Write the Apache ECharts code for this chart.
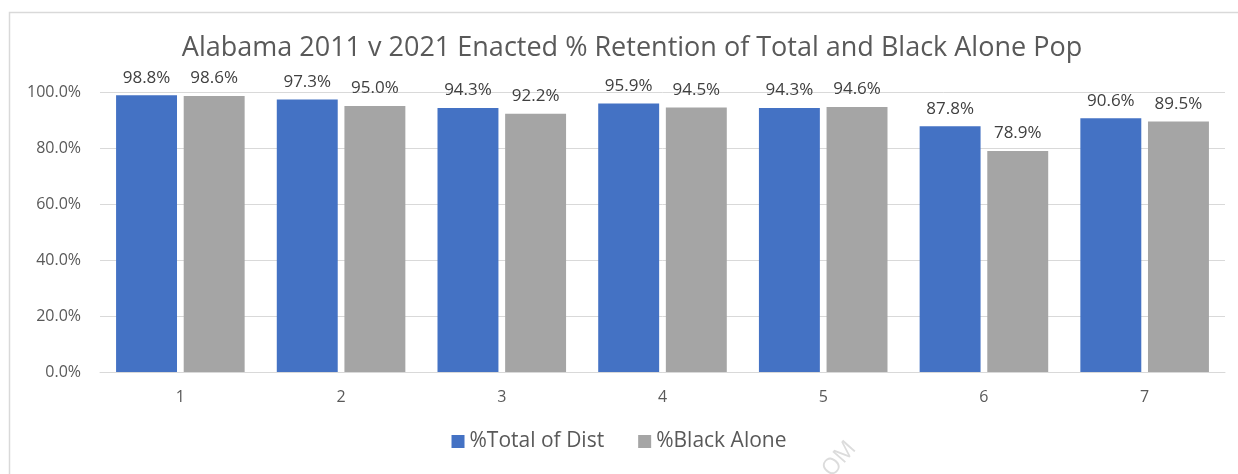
<!DOCTYPE html>
<html>
<head>
<meta charset="utf-8">
<script src="https://cdn.jsdelivr.net/npm/echarts@6/dist/echarts.min.js"></script>
<style>
html,body{margin:0;padding:0;background:#fff;}
#chart{width:1238px;height:474px;}
</style>
</head>
<body>
<div id="chart"></div>
<script>
var categories = ['1','2','3','4','5','6','7'];
var totalOfDist = [98.8, 97.3, 94.3, 95.9, 94.3, 87.8, 90.6];
var blackAlone = [98.6, 95.0, 92.2, 94.5, 94.6, 78.9, 89.5];
var yTicks = [0, 20, 40, 60, 80, 100];
var seriesNames = ['%Total of Dist', '%Black Alone'];

var FONT = '"Open Sans", "Noto Sans", sans-serif';
var chart = echarts.init(document.getElementById('chart'), null, {renderer:'canvas'});
function pct(v){ return Number(v).toFixed(1) + '%'; }
var labelCfg = {
  show: true, position: 'top', distance: 9,
  formatter: function(p){ return pct(p.value); },
  color: '#404040', fontSize: 17, fontFamily: FONT
};
chart.setOption({
  animation: false,
  backgroundColor: '#ffffff',
  title: {
    text: 'Alabama 2011 v 2021 Enacted % Retention of Total and Black Alone Pop',
    left: 627, top: 30, textAlign: 'center',
    textStyle: {color: '#595959', fontSize: 27, fontWeight: 'normal', fontFamily: FONT}
  },
  legend: {
    data: seriesNames, bottom: 17, left: 'center',
    itemWidth: 13, itemHeight: 13, itemGap: 34, icon: 'rect',
    textStyle: {color: '#595959', fontSize: 21, fontFamily: FONT}
  },
  grid: {left: 100, right: 13, top: 92, bottom: 102, containLabel: false},
  xAxis: {
    type: 'category', data: categories,
    axisLine: {lineStyle: {color: '#d9d9d9', width: 1}},
    axisTick: {show: false},
    axisLabel: {color: '#595959', fontSize: 16, fontFamily: FONT, margin: 17}
  },
  yAxis: {
    type: 'value', min: yTicks[0], max: yTicks[yTicks.length-1], interval: 20,
    axisLine: {show: false}, axisTick: {show: false},
    splitLine: {lineStyle: {color: '#d9d9d9', width: 1}},
    axisLabel: {color: '#595959', fontSize: 16, fontFamily: FONT, margin: 19,
      formatter: function(v){ return pct(v); }}
  },
  series: [
    {name: seriesNames[0], type: 'bar', data: totalOfDist, barGap: '11%', barCategoryGap: '20%',
     itemStyle: {color: '#4472c4'}, label: labelCfg},
    {name: seriesNames[1], type: 'bar', data: blackAlone,
     itemStyle: {color: '#a5a5a5'}, label: labelCfg}
  ],
  graphic: [
    {type: 'rect', left: 7, top: 10, silent: true, z: -1,
     shape: {width: 1300, height: 600},
     style: {fill: 'none', stroke: '#d9d9d9', lineWidth: 1.5}},
    {type: 'text', x: 818, y: 466, rotation: Math.PI * 0.27, silent: true,
     style: {text: 'OM', fill: '#dcdcdc', fontSize: 23, fontFamily: FONT}}
  ]
});
</script>
</body>
</html>
